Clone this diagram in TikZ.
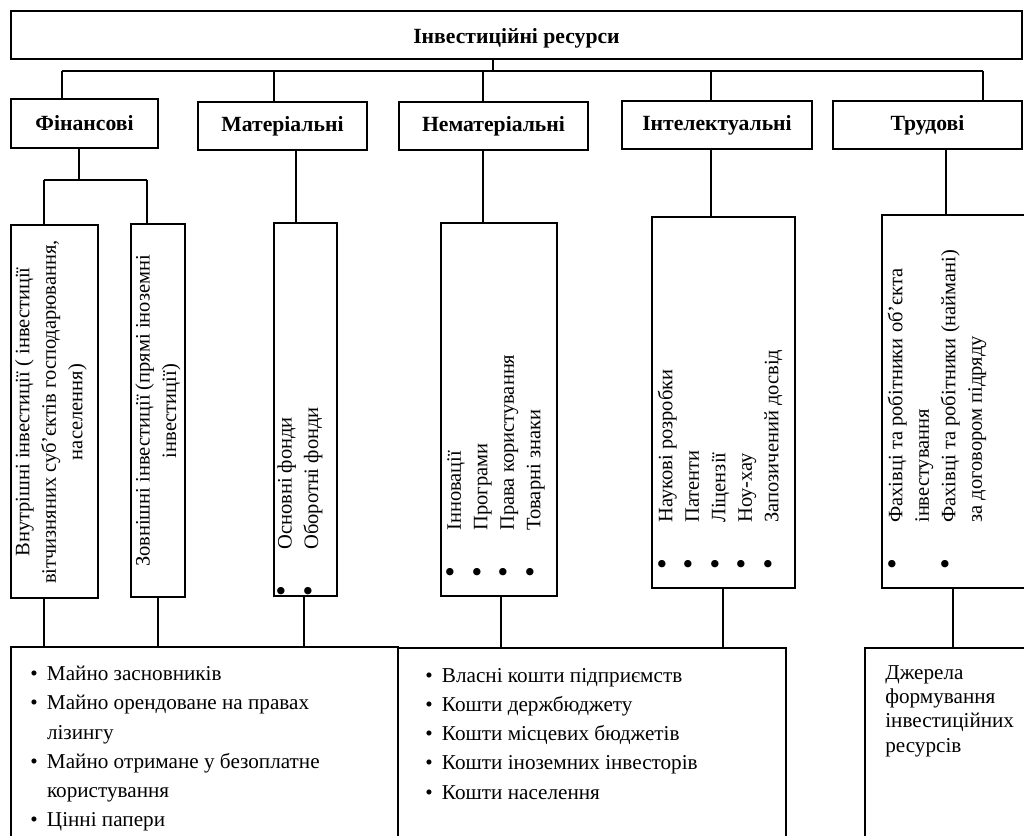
\documentclass[tikz,border=0pt]{standalone}
\usepackage{fontspec}
\setmainfont{Liberation Serif}
\usetikzlibrary{fit}

\tikzset{
    box/.style={draw, line width=0.7pt, inner sep=0pt},
    head/.style={inner sep=0pt, font=\fontsize{13}{15}\selectfont\bfseries},
    vtext/.style={rotate=90, inner sep=0pt, font=\fontsize{12.3}{15.9}\selectfont},
    list/.style={inner sep=0pt, align=left, font=\fontsize{12.7}{17.5}\selectfont},
    link/.style={line width=0.7pt},
}
\newcommand{\vbul}{\makebox[28.2pt][l]{\scalebox{1.5}{\textbullet}}}
\newcommand{\vgap}{\hspace*{28.2pt}}
\newcommand{\hbul}{\makebox[10pt][l]{\textbullet}}
\newcommand{\hgap}{\hspace*{10pt}}

\begin{document}
\begin{tikzpicture}[x=0.6pt, y=-0.6pt]
    \useasboundingbox (0, 0) rectangle (1024, 836);
    \clip (0, 0) rectangle (1024, 836);

    % top level
    \node[box, fit={(11, 11) (1022, 59)}] (res) {};
    \node[head, yshift=-1.8pt] (res-t) at (res) {Інвестиційні ресурси};

    \node[box, fit={(11, 99) (158, 148)}] (fin) {};
    \node[box, fit={(198, 102) (367, 150)}] (mat) {};
    \node[box, fit={(399, 102) (588, 150)}] (nemat) {};
    \node[box, fit={(622, 101) (812, 149)}] (intel) {};
    \node[box, fit={(833, 101) (1022, 149)}] (trud) {};
    \node[head] (fin-t) at (fin) {Фінансові};
    \node[head] (mat-t) at (mat) {Матеріальні};
    \node[head] (nemat-t) at (nemat) {Нематеріальні};
    \node[head] (intel-t) at (intel) {Інтелектуальні};
    \node[head] (trud-t) at (trud) {Трудові};

    % vertical boxes
    \node[box, fit={(11, 225) (98, 598)}] (inner) {};
    \node[box, fit={(131, 224) (185, 597)}] (outer) {};
    \node[box, fit={(274, 223) (337, 596)}] (osn) {};
    \node[box, fit={(441, 223) (557, 596)}] (nemat-l) {};
    \node[box, fit={(652, 217) (795, 588)}] (intel-l) {};
    \node[box, fit={(882, 215) (1045, 588)}] (trud-l) {};

    \node[vtext, align=center] (inner-v) at (51, 412)
        {Внутрішні інвестиції ( інвестиції\\вітчизняних суб’єктів господарювання,\\населення)};
    \node[vtext, align=center] (outer-v) at (158, 411)
        {Зовнішні інвестиції (прямі іноземні\\інвестиції)};
    \node[vtext, align=left, anchor=west] (osn-v) at (300, 597)
        {\vbul Основні фонди\\\vbul Оборотні фонди};
    \node[vtext, align=left, anchor=west] (nemat-v) at (496, 578)
        {\vbul Інновації\\\vbul Програми\\\vbul Права користування\\\vbul Товарні знаки};
    \node[vtext, align=left, anchor=west] (intel-v) at (720, 570)
        {\vbul Наукові розробки\\\vbul Патенти\\\vbul Ліцензії\\\vbul Ноу-хау\\\vbul Запозичений досвід};
    \node[vtext, align=left, anchor=west] (trud-v) at (937, 570)
        {\vbul Фахівці та робітники об’єкта\\\vgap інвестування\\\vbul Фахівці та робітники (наймані)\\\vgap за договором підряду};

    % bottom boxes
    \node[box, fit={(11, 647) (398, 860)}] (b1) {};
    \node[box, fit={(398, 648) (786, 860)}] (b2) {};
    \node[box, fit={(865, 648) (1045, 860)}] (b3) {};

    \node[list, anchor=north west] (b1-t) at (30, 666)
        {\hbul Майно засновників\\\hbul Майно орендоване на правах\\\hgap лізингу\\\hbul Майно отримане у безоплатне\\\hgap користування\\\hbul Цінні папери};
    \node[list, anchor=north west] (b2-t) at (425, 668)
        {\hbul Власні кошти підприємств\\\hbul Кошти держбюджету\\\hbul Кошти місцевих бюджетів\\\hbul Кошти іноземних інвесторів\\\hbul Кошти населення};
    \node[list, anchor=north west, font=\fontsize{12.7}{14.6}\selectfont] (b3-t) at (885, 665)
        {Джерела\\формування\\інвестиційних\\ресурсів};

    % links
    \coordinate (hub) at (493, 71);
    \draw[link] (res.south -| hub) to (hub);
    \foreach \n/\x in {fin/62, mat/274, nemat/483, intel/711, trud/983} {
        \coordinate (\n-in) at (\x, 71);
        \draw[link] (\n-in) to (\n-in |- \n.north);
    }
    \draw[link] (fin-in) to (trud-in);

    \coordinate (fin-out) at (79, 180);
    \coordinate (fin-l) at (44, 180);
    \coordinate (fin-r) at (147, 180);
    \draw[link] (fin.south -| fin-out) to (fin-out);
    \draw[link] (fin-l) to (fin-r);
    \draw[link] (fin-l) to (fin-l |- inner.north);
    \draw[link] (fin-r) to (fin-r |- outer.north);

    \foreach \a/\b/\x in {mat/osn/296, nemat/nemat-l/483, intel/intel-l/711, trud/trud-l/946}
        \draw[link] (\a.south -| \x, 0) to (\b.north -| \x, 0);

    \foreach \a/\b/\x in {inner/b1/44, outer/b1/158, osn/b1/304, nemat-l/b2/501, intel-l/b2/723, trud-l/b3/953}
        \draw[link] (\a.south -| \x, 0) to (\b.north -| \x, 0);
\end{tikzpicture}
\end{document}
